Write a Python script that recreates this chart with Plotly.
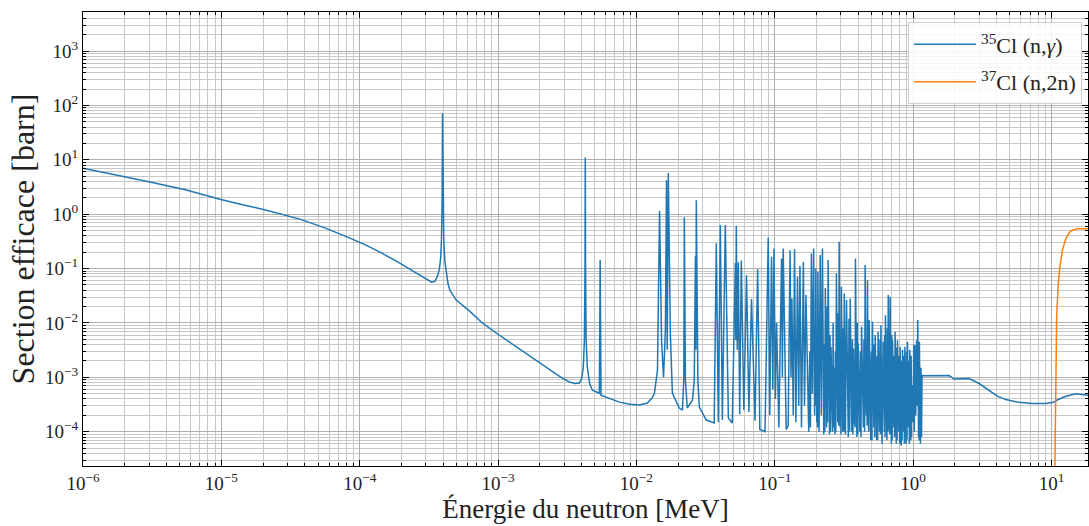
import plotly.graph_objects as go

# ---------------- data ----------------
# 35Cl (n,gamma): thermal / epithermal region with first resonances
e_low = [1e-6, 2.0e-6, 3.05e-6, 5.5e-6, 9.75e-6, 1.45e-5, 2.12e-5, 3.69e-5, 5.6e-5, 8.5e-5,
         1.1e-4, 1.39e-4, 1.65e-4, 1.95e-4, 2.3e-4, 2.71e-4, 3.0e-4, 3.31e-4, 3.5e-4, 3.67e-4,
         3.77e-4, 3.85e-4, 3.9e-4, 3.94e-4, 3.97e-4, 4.0e-4, 4.05e-4, 4.12e-4, 4.23e-4, 4.35e-4,
         4.5e-4, 4.99e-4, 6.2e-4, 7.73e-4, 1.0e-3, 1.36e-3, 1.8e-3, 2.36e-3, 2.8e-3, 3.28e-3,
         3.6e-3, 3.87e-3, 4.02e-3, 4.13e-3, 4.21e-3, 4.25e-3, 4.27e-3, 4.29e-3, 4.33e-3, 4.42e-3,
         4.6e-3, 4.81e-3, 5.4e-3, 5.47e-3, 5.55e-3, 6.5e-3, 7.53e-3, 9.0e-3, 1.05e-2, 1.2e-2,
         1.3e-2, 1.35e-2]
s_low = [7.0, 4.9, 3.92, 2.8, 1.88, 1.48, 1.18, 0.81, 0.56, 0.362,
         0.273, 0.203, 0.162, 0.126, 0.098, 0.0757, 0.066, 0.056, 0.058, 0.075,
         0.10, 0.16, 0.35, 1.5, 72.0, 1.5, 0.35, 0.14, 0.081, 0.052,
         0.039, 0.0263, 0.0167, 9.9e-3, 6.2e-3, 3.6e-3, 2.19e-3, 1.36e-3, 1.03e-3, 8.2e-4,
         7.7e-4, 7.85e-4, 9.5e-4, 1.5e-3, 5.0e-3, 0.1, 11.0, 0.1, 5.0e-3, 1.5e-3,
         7.5e-4, 5.8e-4, 5.1e-4, 0.143, 4.7e-4, 4.0e-4, 3.5e-4, 3.2e-4, 3.1e-4, 3.37e-4,
         4.2e-4, 5.1e-4]

# 35Cl (n,gamma): resolved resonance region (main resonances)
e_res = [1.42e-2, 1.47e-2, 1.52e-2, 1.57e-2, 1.62e-2, 1.65e-2, 1.67e-2, 1.70e-2,
         1.76e-2, 1.82e-2, 2.04e-2, 2.15e-2, 2.20e-2, 2.22e-2, 2.26e-2, 2.33e-2,
         2.54e-2, 2.62e-2, 2.67e-2, 2.69e-2, 2.71e-2, 2.78e-2, 2.85e-2, 3.2e-2,
         3.65e-2, 3.78e-2, 3.91e-2, 4.04e-2, 4.18e-2, 4.39e-2, 4.62e-2, 4.93e-2,
         5.19e-2, 5.23e-2, 5.27e-2, 5.36e-2, 5.45e-2, 5.58e-2, 5.73e-2, 5.98e-2,
         6.25e-2, 6.5e-2, 6.79e-2, 7.2e-2, 7.52e-2, 7.8e-2, 8.5e-2, 8.97e-2,
         9.2e-2, 9.48e-2, 9.68e-2, 9.87e-2, 0.101, 0.103, 0.107, 0.112,
         0.1135, 0.115, 0.121, 0.125, 0.129, 0.131, 0.133, 0.136,
         0.139, 0.142, 0.146, 0.149, 0.152, 0.156, 0.161, 0.164,
         0.168, 0.176, 0.184, 0.187, 0.191, 0.194, 0.198, 0.201,
         0.205, 0.209, 0.213, 0.217, 0.221, 0.226, 0.232, 0.237,
         0.243, 0.249, 0.255, 0.262, 0.268, 0.272, 0.279, 0.285,
         0.292, 0.297, 0.303, 0.310, 0.318, 0.324, 0.330, 0.340,
         0.351, 0.360, 0.371, 0.377, 0.383, 0.392, 0.401, 0.412,
         0.424, 0.437, 0.450, 0.459, 0.468, 0.474, 0.481, 0.494,
         0.508, 0.520, 0.532, 0.545, 0.558, 0.571, 0.585, 0.596,
         0.607, 0.619, 0.631, 0.646, 0.661, 0.671, 0.682, 0.696,
         0.710, 0.725, 0.741, 0.756, 0.771, 0.788, 0.805, 0.821,
         0.838, 0.854, 0.871, 0.890, 0.910, 0.928, 0.946, 0.962,
         0.979, 1.0, 1.03, 1.045, 1.06, 1.07, 1.08, 1.095,
         1.11, 1.13, 1.14, 1.15, 1.16]
s_res = [1.36e-3, 1.14, 4.8e-3, 1.0e-3, 7.3e-3, 4.2, 3.2e-3, 5.7,
         6.0e-3, 5.1e-4, 2.73e-4, 2.5e-4, 8.9e-4, 0.88, 8.9e-4, 2.73e-4,
         3.8e-4, 8.9e-4, 0.168, 3.2e-3, 1.81, 8.9e-4, 2.84e-4, 1.64e-4,
         1.45e-4, 0.293, 1.5e-4, 0.63, 1.64e-4, 0.63, 1.79e-4, 1.45e-4,
         0.126, 4.8e-3, 0.61, 3.2e-3, 0.131, 2.1e-4, 0.14, 2.5e-4,
         0.0757, 2.3e-4, 0.0274, 1.6e-4, 0.0975, 1.1e-4, 1.0e-4, 0.373,
         2.0e-4, 0.164, 6.0e-4, 0.234, 4.0e-4, 0.0101, 1.2e-4, 0.153,
         1.0e-3, 0.234, 1.1e-4, 1.3e-4, 0.218, 1.0e-3, 0.0282, 2.0e-4,
         0.226, 1.5e-4, 0.0705, 3.0e-4, 0.111, 1.2e-4, 0.133, 3.0e-4,
         0.0325, 1.0e-4, 0.190, 5.0e-4, 0.234, 2.0e-4, 0.100, 1.5e-4,
         0.087, 1.0e-4, 0.177, 2.0e-4, 0.234, 9.0e-5, 0.0437, 1.2e-4,
         0.143, 9.0e-5, 3.65e-3, 1.0e-4, 1.5e-3, 9.0e-5, 0.0813, 1.5e-4,
         0.310, 1.2e-4, 0.0461, 1.0e-4, 0.0349, 9.0e-5, 0.0263, 8.0e-5,
         0.0282, 1.0e-4, 3.4e-3, 1.5e-4, 0.153, 8.0e-5, 4.2e-3, 1.0e-4,
         8.5e-3, 1.2e-4, 0.116, 2.0e-4, 0.0612, 1.5e-4, 0.0113, 7.0e-5,
         0.0105, 1.2e-4, 6.0e-3, 7.0e-5, 6.9e-3, 1.0e-4, 9.1e-3, 6.0e-5,
         4.5e-3, 1.0e-4, 0.0139, 7.0e-5, 0.0325, 1.3e-4, 0.0302, 6.0e-5,
         4.8e-3, 1.2e-4, 6.9e-3, 6.0e-5, 4.8e-3, 1.0e-4, 3.65e-3, 5.5e-5,
         3.2e-3, 1.0e-4, 3.65e-3, 6.0e-5, 4.5e-3, 1.2e-4, 3.2e-3, 7.0e-5,
         7.2e-4, 1.5e-4, 3.9e-3, 2.0e-4, 4.8e-3, 3.0e-4, 0.0113, 8.0e-5,
         4.5e-3, 6.0e-5, 1.5e-3, 8.0e-5, 1.1e-3]

# 35Cl (n,gamma): smaller resonances packed between the main ones (peak, then dip)
e_small = [0.179, 0.181, 0.1955, 0.1968, 0.2025, 0.2037, 0.2105, 0.2118, 0.228, 0.230,
           0.239, 0.241, 0.251, 0.253, 0.264, 0.266, 0.274, 0.276, 0.2875, 0.290,
           0.299, 0.301, 0.313, 0.3155, 0.326, 0.328, 0.344, 0.347, 0.364, 0.367,
           0.379, 0.381, 0.395, 0.398, 0.416, 0.420, 0.441, 0.446, 0.462, 0.465,
           0.476, 0.478, 0.499, 0.504, 0.524, 0.528, 0.549, 0.554, 0.576, 0.580,
           0.600, 0.603, 0.623, 0.627, 0.651, 0.656, 0.675, 0.678, 0.701, 0.705,
           0.730, 0.735, 0.761, 0.766, 0.794, 0.800, 0.827, 0.832, 0.860, 0.865,
           0.897, 0.903, 0.934, 0.940, 0.968, 0.974, 1.01, 1.02, 1.10, 1.105]
s_small = [3e-3, 1.2e-4, 8e-3, 3e-4, 2e-3, 1.2e-4, 0.012, 2e-4, 4e-3, 1e-4,
           0.02, 1.5e-4, 6e-3, 1e-4, 0.01, 1.2e-4, 3e-3, 1e-4, 0.015, 1.3e-4,
           5e-3, 9e-5, 8e-3, 1e-4, 2.5e-3, 9e-5, 0.012, 1e-4, 5e-3, 9e-5,
           3e-3, 1.2e-4, 0.01, 9e-5, 3e-3, 8e-5, 5e-3, 1e-4, 4e-3, 1.3e-4,
           6e-3, 1e-4, 3e-3, 7e-5, 4e-3, 8e-5, 2.5e-3, 7e-5, 5e-3, 9e-5,
           3e-3, 7e-5, 6e-3, 8e-5, 8e-3, 1e-4, 3e-3, 9e-5, 6e-3, 7e-5,
           2.5e-3, 8e-5, 3.5e-3, 7e-5, 2.5e-3, 6e-5, 2e-3, 7e-5, 2.5e-3, 6e-5,
           3e-3, 7e-5, 2e-3, 6e-5, 2.5e-3, 8e-5, 4e-3, 1e-4, 2e-3, 7e-5]

# 35Cl (n,gamma): fast region
e_fast = [1.18, 1.82, 1.98, 2.21, 2.54, 3.0, 3.54, 4.06, 4.67, 5.82,
          7.27, 9.08, 10.3, 11.0, 12.7, 15.0, 18.4]
s_fast = [1.07e-3, 1.08e-3, 9.3e-4, 9.5e-4, 9.5e-4, 7.7e-4, 5.8e-4, 4.5e-4, 3.9e-4, 3.47e-4,
          3.3e-4, 3.3e-4, 3.47e-4, 3.83e-4, 4.5e-4, 5.0e-4, 4.7e-4]

# 37Cl (n,2n)
e_n2n = [10.55, 10.65, 10.7, 10.9, 11.2, 11.5, 12.0, 12.7, 13.7, 15.3, 18.4]
s_n2n = [1e-5, 1.5e-4, 7.7e-4, 0.013, 0.053, 0.108, 0.218, 0.357, 0.486, 0.537, 0.537]

x_decades = [-6, -5, -4, -3, -2, -1, 0, 1]
y_decades = [-4, -3, -2, -1, 0, 1, 2, 3]
label_35 = "<sup>35</sup>Cl (n,<i>γ</i>)"
label_37 = "<sup>37</sup>Cl (n,2n)"

# ---------------- figure ----------------
FONT = "Liberation Serif"


def sup(n):
    return "10<sup>" + (str(n) if n >= 0 else "\u2212" + str(-n)) + "</sup>"


def minors(lo, hi):
    vals = []
    for d in range(lo, hi + 1):
        for k in range(2, 10):
            vals.append(k * 10.0 ** d)
    return vals


# merge the resolved-region points in energy order
res_pts = sorted(zip(e_res + e_small, s_res + s_small))
e_35 = e_low + [p[0] for p in res_pts] + e_fast
s_35 = s_low + [p[1] for p in res_pts] + s_fast

fig = go.Figure()
fig.add_trace(go.Scatter(x=e_35, y=s_35, mode="lines", name=label_35, legendgroup="a",
                         line=dict(color="#1f77b4", width=1.5)))
fig.add_trace(go.Scatter(x=e_n2n, y=s_n2n, mode="lines", name=label_37, legendgroup="b",
                         line=dict(color="#ff7f0e", width=1.5)))

axis_common = dict(
    type="log", showline=True, linecolor="black", linewidth=1, mirror="allticks",
    ticks="inside", ticklen=6, tickwidth=1, tickcolor="black",
    showgrid=True, gridcolor="#b0b0b0", gridwidth=0.8, zeroline=False,
    automargin=False,
    tickfont=dict(family=FONT, size=19, color="#222222"),
)

fig.update_xaxes(
    **axis_common,
    range=[-6, 1.264],
    tickvals=[10.0 ** d for d in x_decades],
    ticktext=[sup(d) for d in x_decades],
    minor=dict(tickvals=minors(-6, 1), ticks="inside", ticklen=3, tickcolor="black",
               showgrid=True, gridcolor="#c8c8c8", gridwidth=0.8),
    title=dict(text="Énergie du neutron [MeV]", font=dict(family=FONT, size=27, color="#222222"),
               standoff=2),
)
fig.update_yaxes(
    **axis_common,
    range=[-4.63, 3.717],
    tickvals=[10.0 ** d for d in y_decades],
    ticktext=[sup(d) for d in y_decades],
    minor=dict(tickvals=minors(-5, 3), ticks="inside", ticklen=3, tickcolor="black",
               showgrid=True, gridcolor="#c8c8c8", gridwidth=0.8),
    title=dict(text="Section efficace [barn]", font=dict(family=FONT, size=32, color="#222222"),
               standoff=0),
)

fig.update_layout(
    width=1089, height=526,
    margin=dict(l=83, r=1, t=12, b=60),
    plot_bgcolor="white", paper_bgcolor="white",
    font=dict(family=FONT, color="#222222"),
    legend=dict(x=0.994, y=0.977, xanchor="right", yanchor="top",
                bgcolor="rgba(255,255,255,0.85)", bordercolor="#d0d0d0", borderwidth=1,
                font=dict(family=FONT, size=22, color="#222222"),
                itemwidth=62, tracegroupgap=6),
)

# remove the page's default 8px body margin so the figure sits at the window's corner
fig.write_html("out.html", config={"displayModeBar": False},
               post_script="document.body.style.margin='0';")
